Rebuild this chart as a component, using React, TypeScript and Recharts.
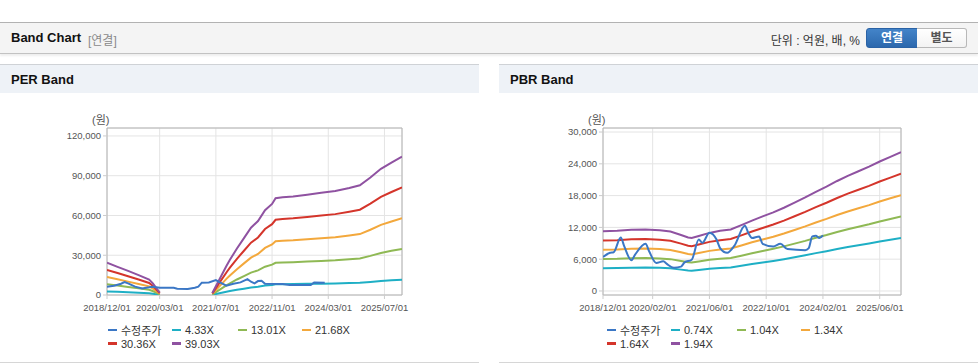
import React from 'react';
import {
  LineChart,
  Line,
  XAxis,
  YAxis,
  CartesianGrid,
  ReferenceArea,
} from 'recharts';

// ---------------------------------------------------------------------------
// Data (x = months since 2018/12/01)
// ---------------------------------------------------------------------------

const PER_BAND_MONTHS = [0, 3, 6, 9, 12, 13, 14, 15, 22, 30, 32, 34, 35, 37, 39, 41, 43, 45, 47, 48, 50, 53, 57, 61, 65, 69, 72, 75, 78, 81, 84];
const PER_433 = [2700, 2360, 2010, 1670, 1300, 1000, 610, 200, null, 170, 1300, 2430, 2940, 3900, 4760, 5630, 6190, 7100, 7620, 8100, 8180, 8250, 8400, 8550, 8700, 8960, 9180, 9830, 10570, 11090, 11580];
const PER_1301 = [8130, 7090, 6050, 5010, 3900, 2990, 1820, 590, null, 520, 3900, 7290, 8850, 11710, 14310, 16910, 18600, 21340, 22900, 24330, 24590, 24780, 25240, 25700, 26150, 26930, 27580, 29530, 31740, 33310, 34800];
const PER_2168 = [13550, 11820, 10080, 8350, 6500, 4990, 3040, 980, null, 870, 6500, 12140, 14740, 19510, 23850, 28180, 31000, 35560, 38160, 40540, 40980, 41300, 42060, 42820, 43580, 44880, 45960, 49210, 52900, 55500, 57990];
const PER_3036 = [18980, 16550, 14120, 11690, 9110, 6980, 4250, 1370, null, 1210, 9110, 17000, 20650, 27320, 33400, 39470, 43420, 49790, 53430, 56770, 57380, 57840, 58900, 59960, 61020, 62850, 64360, 68920, 74080, 77720, 81210];
const PER_3903 = [24390, 21270, 18150, 15030, 11710, 8980, 5460, 1760, null, 1560, 11710, 21860, 26540, 35130, 42930, 50740, 55810, 64010, 68690, 72990, 73770, 74350, 75720, 77080, 78450, 80790, 82740, 88600, 95230, 99920, 104400];

const PER_PRICE_MONTHS = [0, 2, 4, 5, 6, 8, 10, 12, 13, 15, 19, 20, 23, 25, 26, 27, 29, 31, 32, 34, 36, 38, 40, 41, 42, 43, 44, 45, 50, 52, 58, 59, 62];
const PER_PRICE = [6300, 7000, 8500, 9800, 8800, 6300, 5000, 5800, 6300, 5500, 5500, 4800, 4500, 5500, 6300, 9300, 9500, 11300, 9800, 7000, 8500, 9500, 12000, 10000, 8800, 10500, 10800, 8500, 8300, 7500, 7500, 9500, 9300];

const PBR_BAND_MONTHS = [0, 4, 8, 12, 16, 19, 22, 24, 25, 27, 30, 33, 36, 39, 42, 45, 48, 51, 54, 57, 60, 63, 66, 69, 72, 75, 78, 81, 84];
const PBR_074 = [4290, 4330, 4400, 4430, 4370, 4280, 4030, 3850, 3810, 3960, 4180, 4330, 4430, 4740, 5070, 5370, 5660, 5990, 6360, 6730, 7140, 7510, 7920, 8290, 8620, 8950, 9320, 9660, 9990];
const PBR_104 = [6030, 6080, 6190, 6220, 6140, 6010, 5670, 5410, 5360, 5560, 5880, 6080, 6220, 6660, 7120, 7540, 7960, 8420, 8940, 9460, 10040, 10560, 11130, 11650, 12120, 12580, 13100, 13570, 14040];
const PBR_134 = [7770, 7840, 7970, 8010, 7910, 7750, 7300, 6970, 6900, 7170, 7570, 7840, 8010, 8580, 9180, 9720, 10250, 10850, 11520, 12190, 12930, 13600, 14340, 15010, 15610, 16210, 16880, 17490, 18090];
const PBR_164 = [9510, 9590, 9760, 9810, 9680, 9480, 8940, 8530, 8450, 8770, 9270, 9590, 9810, 10500, 11230, 11890, 12550, 13280, 14100, 14920, 15830, 16650, 17550, 18370, 19110, 19840, 20660, 21400, 22140];
const PBR_194 = [11250, 11350, 11540, 11600, 11450, 11210, 10570, 10090, 9990, 10380, 10960, 11350, 11600, 12420, 13290, 14070, 14840, 15710, 16680, 17650, 18720, 19690, 20760, 21730, 22600, 23470, 24440, 25320, 26190];

const PBR_PRICE_MONTHS = [0, 2, 3, 5, 6, 8, 9, 12, 13, 15, 17, 18, 20, 22, 23, 25, 27, 28, 30, 32, 33, 35, 37, 40, 41, 42, 44, 45, 48, 50, 52, 57, 58, 59, 60, 61, 62];
const PBR_PRICE = [6400, 7200, 7300, 10100, 8400, 5800, 6800, 8900, 7500, 5300, 5600, 5100, 4400, 4600, 5400, 5900, 9700, 9100, 11000, 9700, 8100, 7200, 8500, 12300, 10900, 10000, 10300, 8900, 8400, 8900, 7900, 7700, 8100, 10300, 10400, 10000, 10500];

const PER_X_TICKS = [0, 15, 31, 47, 63, 79];
const PER_Y_TICKS = [0, 30000, 60000, 90000, 120000];
const PBR_X_TICKS = [0, 14, 30, 46, 62, 78];
const PBR_Y_TICKS = [0, 6000, 12000, 18000, 24000, 30000];

const PER_NAMES = ['수정주가', '4.33X', '13.01X', '21.68X', '30.36X', '39.03X'];
const PBR_NAMES = ['수정주가', '0.74X', '1.04X', '1.34X', '1.64X', '1.94X'];
const COLORS = ['#3b77c5', '#1eafc5', '#8fb954', '#f3a83c', '#d4352b', '#8f52a1'];

// ---------------------------------------------------------------------------
// Helpers
// ---------------------------------------------------------------------------

const FONT = "'Liberation Sans', Arial, 'Noto Sans CJK KR', sans-serif";

function monthLabel(m: number): string {
  const t = 11 + m;
  const y = 2018 + Math.floor(t / 12);
  const mm = (t % 12) + 1;
  return `${y}/${String(mm).padStart(2, '0')}/01`;
}

const fmtNum = (v: number) => v.toLocaleString('en-US');

interface Series {
  name: string;
  color: string;
  months: number[];
  values: (number | null)[];
  curve: 'linear' | 'monotone';
}

function toPoints(months: number[], values: (number | null)[]) {
  return months.map((m, i) => ({ m, v: values[i] }));
}

const PER_SERIES: Series[] = [
  { name: PER_NAMES[0], color: COLORS[0], months: PER_PRICE_MONTHS, values: PER_PRICE, curve: 'linear' },
  { name: PER_NAMES[1], color: COLORS[1], months: PER_BAND_MONTHS, values: PER_433, curve: 'linear' },
  { name: PER_NAMES[2], color: COLORS[2], months: PER_BAND_MONTHS, values: PER_1301, curve: 'linear' },
  { name: PER_NAMES[3], color: COLORS[3], months: PER_BAND_MONTHS, values: PER_2168, curve: 'linear' },
  { name: PER_NAMES[4], color: COLORS[4], months: PER_BAND_MONTHS, values: PER_3036, curve: 'linear' },
  { name: PER_NAMES[5], color: COLORS[5], months: PER_BAND_MONTHS, values: PER_3903, curve: 'linear' },
];

const PBR_SERIES: Series[] = [
  { name: PBR_NAMES[0], color: COLORS[0], months: PBR_PRICE_MONTHS, values: PBR_PRICE, curve: 'monotone' },
  { name: PBR_NAMES[1], color: COLORS[1], months: PBR_BAND_MONTHS, values: PBR_074, curve: 'linear' },
  { name: PBR_NAMES[2], color: COLORS[2], months: PBR_BAND_MONTHS, values: PBR_104, curve: 'linear' },
  { name: PBR_NAMES[3], color: COLORS[3], months: PBR_BAND_MONTHS, values: PBR_134, curve: 'linear' },
  { name: PBR_NAMES[4], color: COLORS[4], months: PBR_BAND_MONTHS, values: PBR_164, curve: 'linear' },
  { name: PBR_NAMES[5], color: COLORS[5], months: PBR_BAND_MONTHS, values: PBR_194, curve: 'linear' },
];

// ---------------------------------------------------------------------------
// Chart panel
// ---------------------------------------------------------------------------

interface BandChartProps {
  series: Series[];
  yDomain: [number, number];
  yTicks: number[];
  xTicks: number[];
  marginLeft: number;
}

function BandChart({ series, yDomain, yTicks, xTicks, marginLeft }: BandChartProps) {
  const tickStyle = { fontSize: 9.5, fill: '#555', fontFamily: FONT };
  // bands first, price on top
  const ordered = [...series.slice(1), series[0]];
  return (
    <LineChart
      width={479}
      height={225}
      margin={{ top: 35, right: 77, bottom: 3, left: marginLeft }}
    >
      <CartesianGrid stroke="#e4e4e4" />
      <XAxis
        dataKey="m"
        type="number"
        domain={[0, 84]}
        ticks={xTicks}
        interval={0}
        allowDataOverflow
        tickFormatter={monthLabel}
        height={20}
        tick={tickStyle}
        tickSize={4}
        tickMargin={5}
        axisLine={false}
        tickLine={{ stroke: '#cccccc' }}
      />
      <YAxis
        type="number"
        domain={yDomain}
        ticks={yTicks}
        interval={0}
        allowDataOverflow
        tickFormatter={fmtNum}
        width={60}
        tick={tickStyle}
        tickSize={4}
        tickMargin={2}
        axisLine={false}
        tickLine={{ stroke: '#cccccc' }}
      />
      <ReferenceArea
        x1={0}
        x2={84}
        y1={yDomain[0]}
        y2={yDomain[1]}
        fill="none"
        fillOpacity={0}
        stroke="#b4b4b4"
        strokeOpacity={1}
      />
      {ordered.map((s) => (
        <Line
          key={s.name}
          data={toPoints(s.months, s.values)}
          dataKey="v"
          name={s.name}
          type={s.curve}
          stroke={s.color}
          strokeWidth={2}
          dot={false}
          activeDot={false}
          connectNulls={false}
          isAnimationActive={false}
        />
      ))}
    </LineChart>
  );
}

const LEGEND_COLS = [108, 172, 238, 302];

function BandLegend({ series }: { series: Series[] }) {
  return (
    <>
      {series.map((s, i) => {
        const row = Math.floor(i / 4);
        const col = i % 4;
        return (
          <div
            key={s.name}
            style={{
              position: 'absolute',
              left: LEGEND_COLS[col],
              top: 323 + row * 13.5,
              height: 14,
              display: 'flex',
              alignItems: 'center',
              fontFamily: FONT,
              fontSize: 11,
              color: '#333',
              whiteSpace: 'nowrap',
            }}
          >
            <span style={{ display: 'inline-block', width: 9, height: 2.5, background: s.color, marginRight: 4 }} />
            {s.name}
          </div>
        );
      })}
    </>
  );
}

function Panel({
  left,
  title,
  children,
  series,
}: {
  left: number;
  title: string;
  children: React.ReactNode;
  series: Series[];
}) {
  return (
    <div style={{ position: 'absolute', left, top: 0, width: 479, height: 364 }}>
      <div
        style={{
          position: 'absolute',
          left: 0,
          top: 64,
          width: 479,
          height: 28,
          background: '#eef2f7',
          borderTop: '1px solid #cfd2d6',
        }}
      >
        <span
          style={{
            position: 'absolute',
            left: 11,
            top: 7,
            fontFamily: FONT,
            fontSize: 13,
            fontWeight: 'bold',
            color: '#111',
          }}
        >
          {title}
        </span>
      </div>
      <div style={{ position: 'absolute', left: 0, top: 93 }}>{children}</div>
      <BandLegend series={series} />
      <div style={{ position: 'absolute', left: 0, top: 362, width: 479, height: 1, background: '#d6d6d6' }} />
    </div>
  );
}

export default function App() {
  return (
    <div
      style={{
        position: 'absolute',
        left: 0,
        top: 0,
        width: 978,
        height: 364,
        background: '#fff',
        overflow: 'hidden',
        fontFamily: FONT,
      }}
    >
      {/* top header bar */}
      <div
        style={{
          position: 'absolute',
          left: 0,
          top: 22,
          width: 978,
          height: 30,
          background: '#f4f4f4',
          borderTop: '1px solid #b2b2b2',
          borderBottom: '1px solid #c2c2c2',
          boxShadow: '0 2px 2px rgba(0,0,0,0.07)',
        }}
      >
        <span style={{ position: 'absolute', left: 11, top: 7, fontSize: 13, fontWeight: 'bold', color: '#111' }}>
          Band Chart
        </span>
        <span style={{ position: 'absolute', left: 88, top: 8, fontSize: 12, color: '#8a8a8a' }}>[연결]</span>
        <span style={{ position: 'absolute', right: 118, top: 8, fontSize: 12, color: '#333' }}>
          단위 : 억원, 배, %
        </span>
        <div
          style={{
            position: 'absolute',
            left: 866,
            top: 5,
            width: 50,
            height: 18,
            background: 'linear-gradient(#4384c9, #2c68ad)',
            border: '1px solid #2a62a5',
            borderRadius: '3px 0 0 3px',
            color: '#fff',
            fontSize: 12,
            fontWeight: 'bold',
            textAlign: 'center',
            lineHeight: '18px',
          }}
        >
          연결
        </div>
        <div
          style={{
            position: 'absolute',
            left: 917,
            top: 5,
            width: 49,
            height: 18,
            background: 'linear-gradient(#ffffff, #f3f3f3)',
            border: '1px solid #b8b8b8',
            borderLeft: 'none',
            borderRadius: '0 3px 3px 0',
            color: '#555',
            fontSize: 12,
            fontWeight: 'bold',
            textAlign: 'center',
            lineHeight: '18px',
          }}
        >
          별도
        </div>
      </div>

      <Panel left={0} title="PER Band" series={PER_SERIES}>
        <BandChart
          series={PER_SERIES}
          yDomain={[0, 126000]}
          yTicks={PER_Y_TICKS}
          xTicks={PER_X_TICKS}
          marginLeft={47}
        />
      </Panel>
      <span style={{ position: 'absolute', left: 92, top: 111, fontSize: 11, color: '#555' }}>(원)</span>

      <Panel left={499} title="PBR Band" series={PBR_SERIES}>
        <BandChart
          series={PBR_SERIES}
          yDomain={[-760, 30760]}
          yTicks={PBR_Y_TICKS}
          xTicks={PBR_X_TICKS}
          marginLeft={44}
        />
      </Panel>
      <span style={{ position: 'absolute', left: 588, top: 111, fontSize: 11, color: '#555' }}>(원)</span>
    </div>
  );
}
